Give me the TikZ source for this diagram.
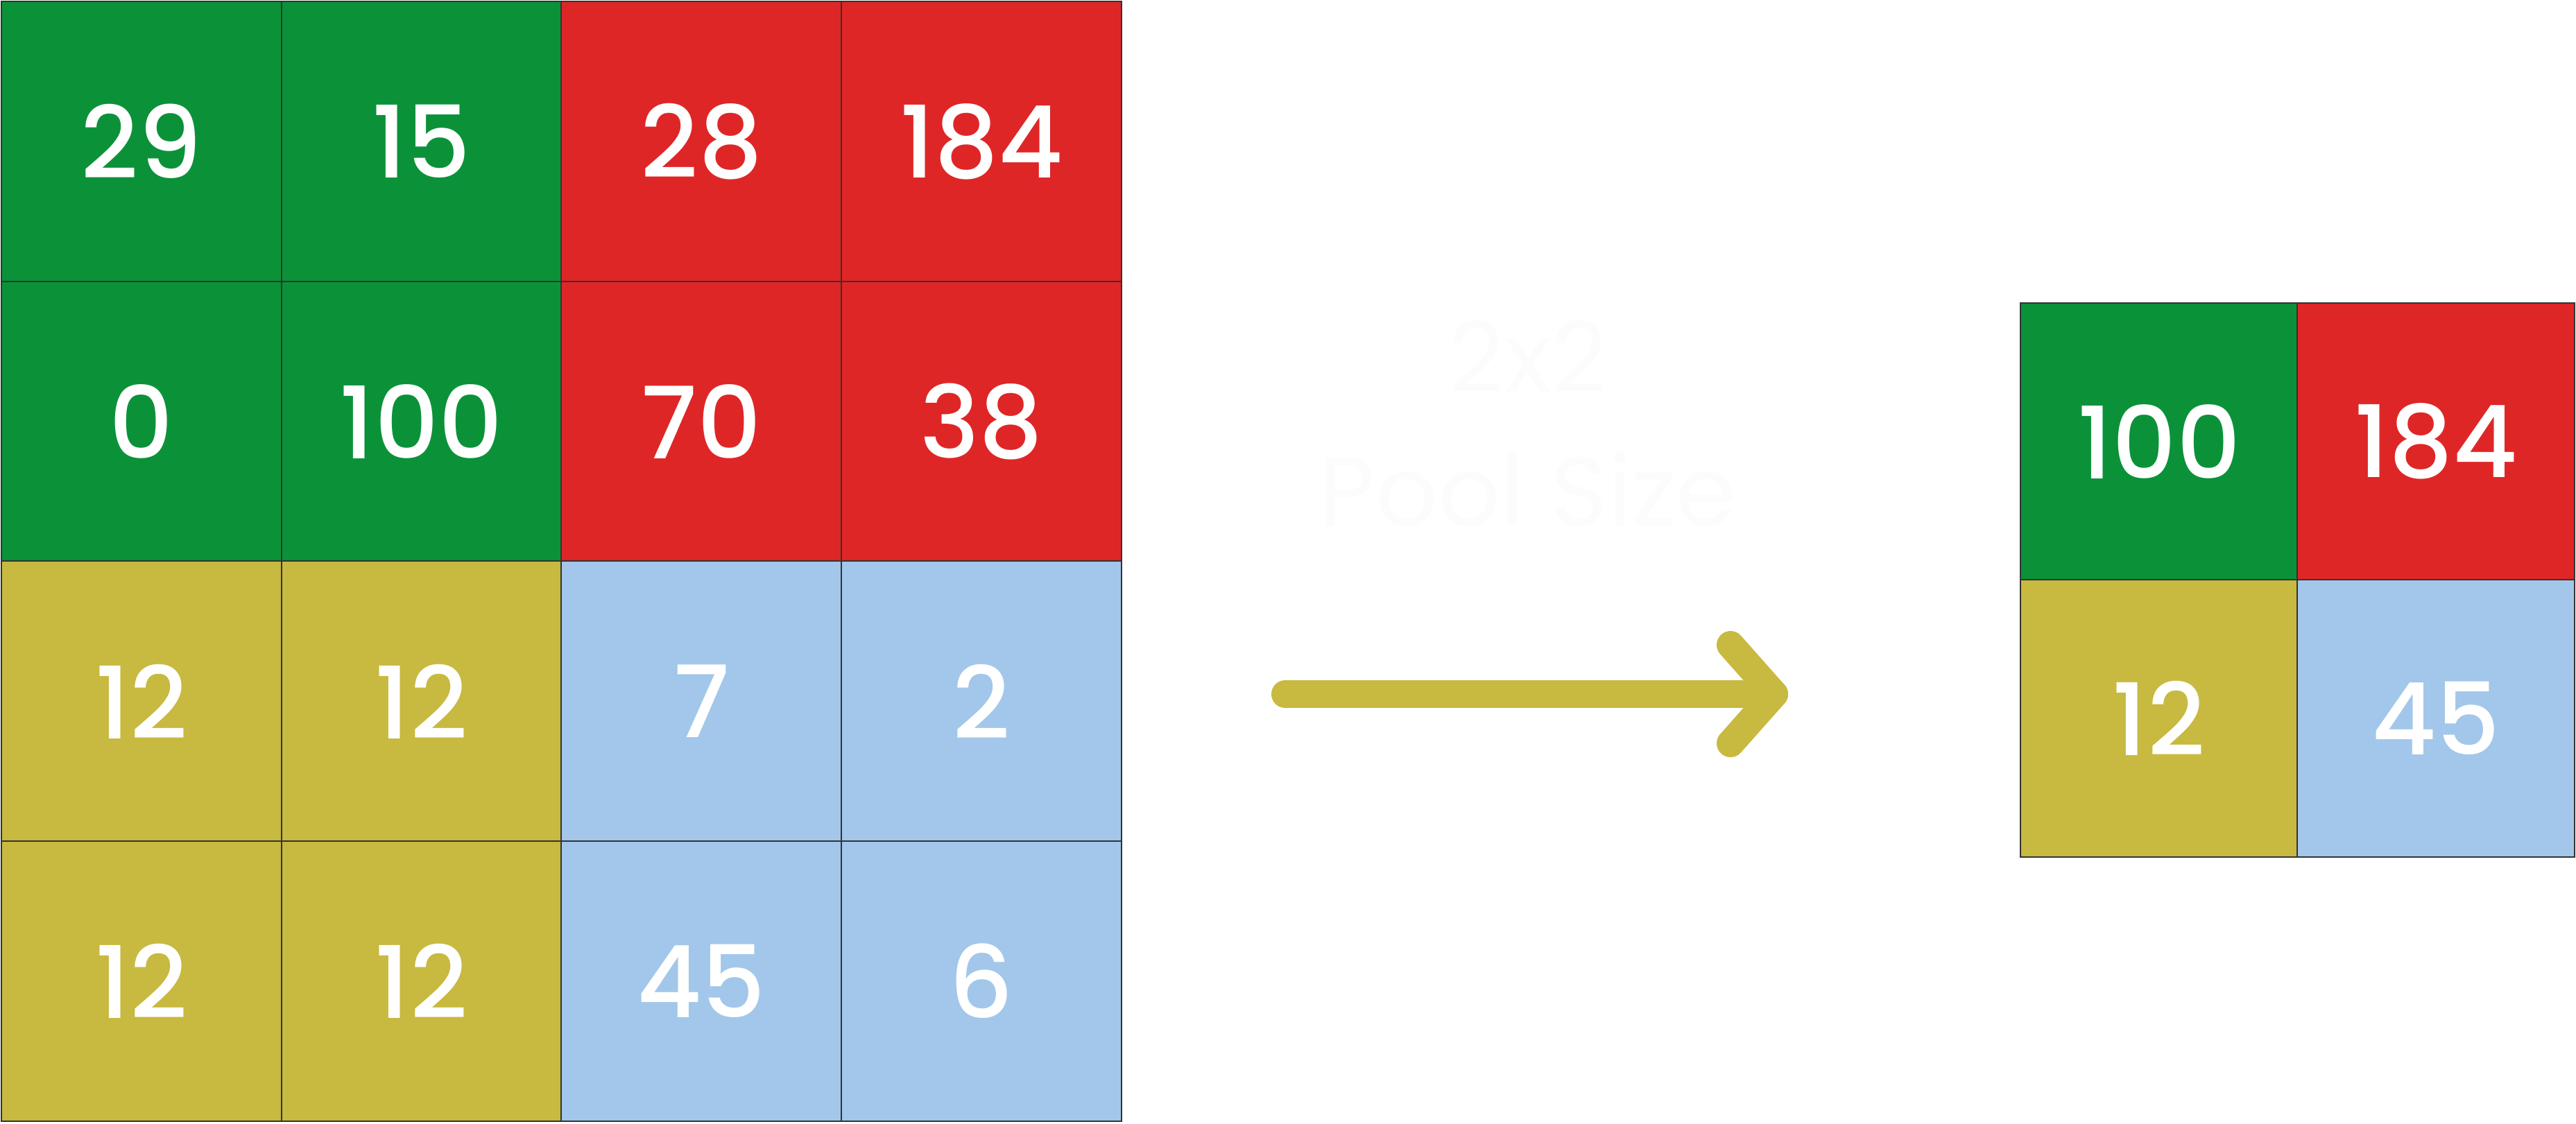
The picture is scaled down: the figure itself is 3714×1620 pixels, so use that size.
\documentclass[tikz,border=0pt]{standalone}
\usepackage{fontspec}
\setmainfont{Poppins}
\newfontfamily\numfont{Poppins Medium}
\definecolor{cgreen}{HTML}{0B9239}
\definecolor{cred}{HTML}{DF2627}
\definecolor{cyel}{HTML}{C8B940}
\definecolor{cblue}{HTML}{A2C7EA}
\definecolor{cline}{HTML}{333333}
\definecolor{ghost}{HTML}{FCFCFC}
\begin{document}
\begin{tikzpicture}[x=0.01cm,y=-0.01cm,
  cellL/.style={draw=cline, line width=0.02cm, minimum width=4.0375cm, minimum height=4.0375cm, inner sep=0pt, text=white, font=\numfont\fontsize{41}{41}\selectfont},
  cellR/.style={cellL, minimum width=3.995cm, minimum height=3.995cm},
  arrowline/.style={draw=cyel, line width=0.4cm, line cap=round, line join=round},
  ghosttext/.style={text=ghost, inner sep=0pt, anchor=base, font=\fontsize{40}{40}\selectfont}]
\useasboundingbox (0,0) rectangle (3714,1620);
% input grid
\node[cellL, fill=cgreen] (L11) at (203.9,203.9) {29};
\node[cellL, fill=cgreen] (L12) at (607.6,203.9) {15};
\node[cellL, fill=cred]   (L13) at (1011.4,203.9) {28};
\node[cellL, fill=cred]   (L14) at (1415.1,203.9) {184};
\node[cellL, fill=cgreen] (L21) at (203.9,607.6) {0};
\node[cellL, fill=cgreen] (L22) at (607.6,607.6) {100};
\node[cellL, fill=cred]   (L23) at (1011.4,607.6) {70};
\node[cellL, fill=cred]   (L24) at (1415.1,607.6) {38};
\node[cellL, fill=cyel]   (L31) at (203.9,1011.4) {12};
\node[cellL, fill=cyel]   (L32) at (607.6,1011.4) {12};
\node[cellL, fill=cblue]  (L33) at (1011.4,1011.4) {7};
\node[cellL, fill=cblue]  (L34) at (1415.1,1011.4) {2};
\node[cellL, fill=cyel]   (L41) at (203.9,1415.1) {12};
\node[cellL, fill=cyel]   (L42) at (607.6,1415.1) {12};
\node[cellL, fill=cblue]  (L43) at (1011.4,1415.1) {45};
\node[cellL, fill=cblue]  (L44) at (1415.1,1415.1) {6};
% output grid
\node[cellR, fill=cgreen] (R11) at (3112.75,636.75) {100};
\node[cellR, fill=cred]   (R12) at (3512.25,636.75) {184};
\node[cellR, fill=cyel]   (R21) at (3112.75,1036.25) {12};
\node[cellR, fill=cblue]  (R22) at (3512.25,1036.25) {45};
% faint label
\node[ghosttext] (lab1) at (2203,565) {2x2};
\node[ghosttext] (lab2) at (2203,758) {Pool Size};
% arrow
\coordinate (arS) at (1853,1001);
\coordinate (arT) at (2558,1001);
\coordinate (arU) at (2495,930);
\coordinate (arD) at (2495,1072);
\draw[arrowline] (arS) -- (arT);
\draw[arrowline] (arU) -- (arT) -- (arD);
\end{tikzpicture}
\end{document}
